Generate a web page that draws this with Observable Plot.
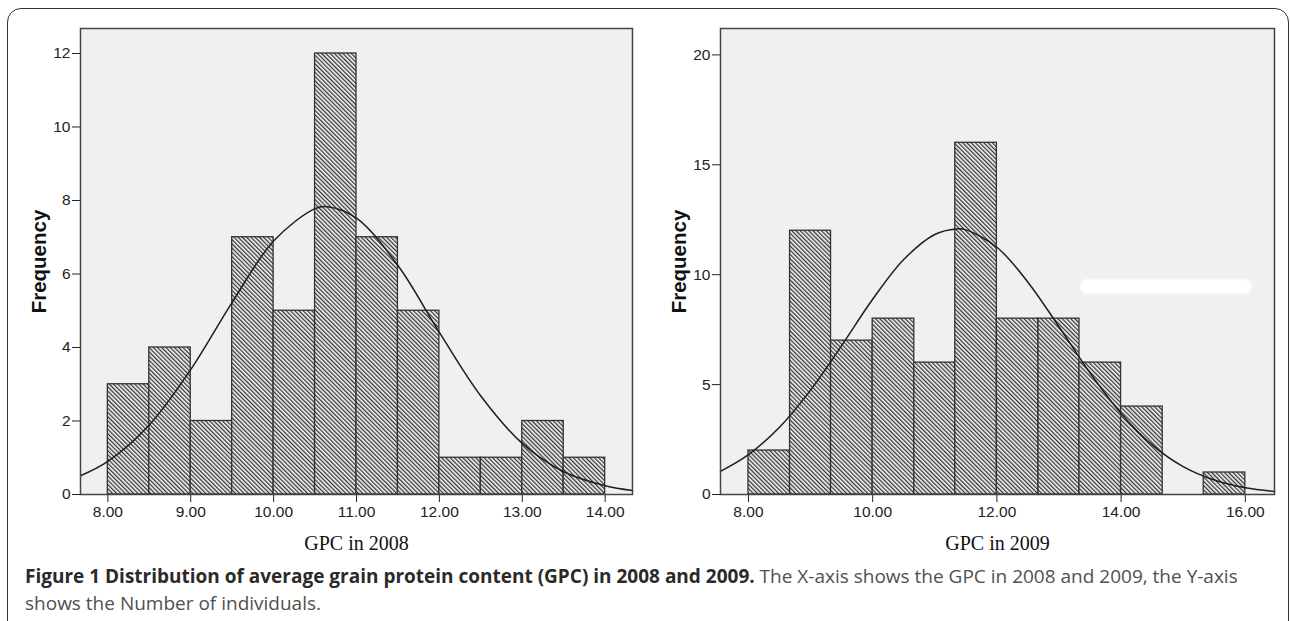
<!DOCTYPE html>
<html>
<head>
<meta charset="utf-8">
<script src="https://cdn.jsdelivr.net/npm/d3@7"></script>
<script src="https://cdn.jsdelivr.net/npm/@observablehq/plot@0.6"></script>
<style>
html, body { margin: 0; padding: 0; background: #fff; }
#wrap { position: relative; width: 1290px; height: 621px; overflow: hidden; background: #fff; }
#border { position: absolute; left: 7px; top: 8px; width: 1282px; height: 660px; border: 1.5px solid #333; border-radius: 14px; box-sizing: border-box; }
#p1 { position: absolute; left: 0; top: 0; }
#p2 { position: absolute; left: 645px; top: 0; }
#caption { position: absolute; left: 25px; top: 563px; font-family: "Open Sans", sans-serif; font-size: 19px; line-height: 27px; color: #505050; white-space: nowrap; }
#caption b { color: #2a2a2a; font-weight: 700; }
#smudge { position: absolute; left: 1080px; top: 279px; width: 172px; height: 15px; background: #fff; border-radius: 8px; filter: blur(0.8px); }
svg { overflow: visible; }
</style>
</head>
<body>
<div id="wrap">
  <div id="border"></div>
  <div id="p1"></div>
  <div id="p2"></div>
  <div id="smudge"></div>
  <div id="caption"><b>Figure 1 Distribution of average grain protein content (GPC) in 2008 and 2009.</b> The X-axis shows the GPC in 2008 and 2009, the Y-axis<br>shows the Number of individuals.</div>
</div>
<script>
// ---- Data ----
// GPC 2008 histogram
const edges2008 = [8, 8.5, 9, 9.5, 10, 10.5, 11, 11.5, 12, 12.5, 13, 13.5, 14];
const counts2008 = [3, 4, 2, 7, 5, 12, 7, 5, 1, 1, 2, 1];
// Fitted normal curve 2008
const curveX2008 = [7.67, 8, 8.5, 9, 9.5, 10, 10.5, 10.65, 11, 11.5, 12, 12.5, 13, 13.5, 14, 14.33];
const curveY2008 = [0.51, 0.90, 1.89, 3.40, 5.23, 6.90, 7.78, 7.83, 7.52, 6.23, 4.41, 2.68, 1.39, 0.62, 0.24, 0.11];
const xTicks2008 = [8, 9, 10, 11, 12, 13, 14];
const yTicks2008 = [0, 2, 4, 6, 8, 10, 12];

// GPC 2009 histogram
const edges2009 = [8, 8.67, 9.33, 10, 10.67, 11.33, 12, 12.67, 13.33, 14, 14.67, 15.33, 16];
const counts2009 = [2, 12, 7, 8, 6, 16, 8, 8, 6, 4, 0, 1];
// Fitted normal curve 2009
const curveX2009 = [7.55, 8, 8.5, 9, 9.5, 10, 10.5, 11, 11.35, 11.5, 12, 12.5, 13, 13.5, 14, 14.5, 15, 15.5, 16, 16.47];
const curveY2009 = [1.05, 1.81, 3.06, 4.75, 6.77, 8.88, 10.69, 11.83, 12.08, 12.04, 11.25, 9.66, 7.63, 5.53, 3.69, 2.26, 1.27, 0.66, 0.31, 0.14];
const xTicks2009 = [8, 10, 12, 14, 16];
const yTicks2009 = [0, 5, 10, 15, 20];

const xLabel2008 = "GPC in 2008";
const xLabel2009 = "GPC in 2009";
const yLabel = "Frequency";

// ---- Drawing ----
function hatchDefs(id) {
  return () => {
    const defs = d3.create("svg:defs");
    const p = defs.append("pattern")
      .attr("id", id)
      .attr("patternUnits", "userSpaceOnUse")
      .attr("width", 3)
      .attr("height", 3)
      .attr("patternTransform", "rotate(-45)");
    p.append("rect").attr("width", 3).attr("height", 3).attr("fill", "#f8f8f8");
    p.append("rect").attr("width", 1.3).attr("height", 3).attr("fill", "#333");
    return defs.node();
  };
}

function panel({edges, counts, cx, cy, xTicks, yTicks, xDomain, yDomain, xLabel, marginLeft, marginRight, id}) {
  const bars = counts.map((c, i) => ({x1: edges[i], x2: edges[i + 1], y: c})).filter(d => d.y > 0);
  const curve = cx.map((x, i) => ({x, y: cy[i]}));
  return Plot.plot({
    width: 645,
    height: 560,
    marginLeft,
    marginRight,
    marginTop: 28,
    marginBottom: 66,
    style: {fontFamily: "'Liberation Sans', Arial, sans-serif", fontSize: "15.5px", color: "#222", background: "transparent"},
    x: {domain: xDomain, ticks: xTicks, tickFormat: d3.format(".2f"), tickSize: 8, tickPadding: 3, label: null},
    y: {domain: yDomain, ticks: yTicks, tickFormat: d3.format("d"), tickSize: 8, tickPadding: 2, label: null},
    marks: [
      hatchDefs(id),
      Plot.frame({fill: "#f0f0f0"}),
      Plot.rectY(bars, {x1: "x1", x2: "x2", y: "y", fill: `url(#${id})`, stroke: "#333", strokeWidth: 1.3}),
      Plot.line(curve, {x: "x", y: "y", curve: "catmull-rom", stroke: "#1e1e1e", strokeWidth: 1.5}),
      Plot.frame({stroke: "#444", strokeWidth: 1.5}),
      Plot.text([xLabel], {text: d => d, frameAnchor: "bottom", dy: 49, textAnchor: "middle", lineAnchor: "middle",
        fontFamily: "'Liberation Serif', 'Times New Roman', serif", fontSize: 20, fill: "#111"}),
      Plot.text([yLabel], {text: d => d, frameAnchor: "left", dx: -41, rotate: -90, textAnchor: "middle", lineAnchor: "middle",
        fontFamily: "'Liberation Sans', Arial, sans-serif", fontWeight: "bold", fontSize: 20.5, fill: "#111"})
    ]
  });
}

document.getElementById("p1").append(panel({
  edges: edges2008, counts: counts2008, cx: curveX2008, cy: curveY2008,
  xTicks: xTicks2008, yTicks: yTicks2008, xDomain: [7.67, 14.33], yDomain: [0, 12.68],
  xLabel: xLabel2008, marginLeft: 80, marginRight: 13, id: "hatch2008"
}));
document.getElementById("p2").append(panel({
  edges: edges2009, counts: counts2009, cx: curveX2009, cy: curveY2009,
  xTicks: xTicks2009, yTicks: yTicks2009, xDomain: [7.55, 16.47], yDomain: [0, 21.2],
  xLabel: xLabel2009, marginLeft: 75, marginRight: 16, id: "hatch2009"
}));
</script>
</body>
</html>
